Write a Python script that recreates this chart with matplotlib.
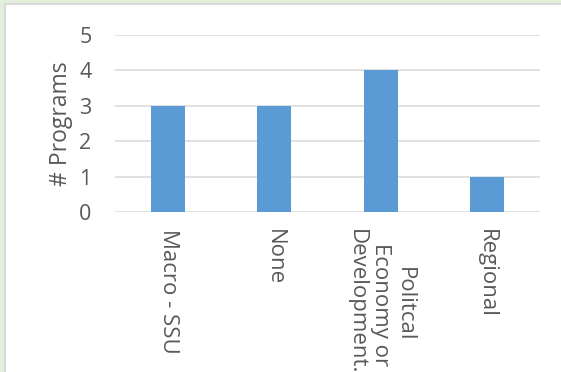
import matplotlib.pyplot as plt
from matplotlib.patches import Rectangle

# Данные
categories = ['Macro - SSU', 'None', 'Politcal\nEconomy or\nDevelopment..', 'Regional']
programs = [3, 3, 4, 1]
y_ticks = [0, 1, 2, 3, 4, 5]

text_color = '#595959'
plt.rcParams['font.family'] = ['Open Sans', 'DejaVu Sans']

fig = plt.figure(figsize=(5.61, 3.72), dpi=100)
W, H = 561, 372

# Зеленый фон и рамка панели
fig.patches.append(Rectangle((0, 0), 1, 1, transform=fig.transFigure,
                             facecolor='#E2EFDA', edgecolor='none', zorder=-3))
fig.patches.append(Rectangle((5 / W, -0.1), 1.1, 1 - 4 / H + 0.1, transform=fig.transFigure,
                             facecolor='white', edgecolor='#D9D9D9', linewidth=1.5, zorder=-2))

ax = fig.add_axes([115 / W, 1 - 212 / H, 425 / W, 177 / H])
ax.set_facecolor('none')

x = list(range(len(categories)))
ax.bar(x, programs, width=0.32, color='#5B9BD5', zorder=2)

ax.set_xlim(-0.5, len(categories) - 0.5)
ax.set_ylim(0, 5)
ax.set_yticks(y_ticks)
ax.yaxis.grid(True, color='#D9D9D9', linewidth=1.1)
ax.set_axisbelow(True)

for s in ax.spines.values():
    s.set_visible(False)

ax.tick_params(axis='both', length=0, colors=text_color)
ax.tick_params(axis='y', pad=17, labelsize=15.5)
ax.set_xticks(x)
ax.set_xticklabels(categories, rotation=270, va='top', ha='center',
                   multialignment='center', linespacing=1.2, fontsize=16)
ax.tick_params(axis='x', pad=12)

ax.set_ylabel('# Programs', color=text_color, fontsize=16.5, labelpad=4)

fig.savefig('out.png', dpi=100)
